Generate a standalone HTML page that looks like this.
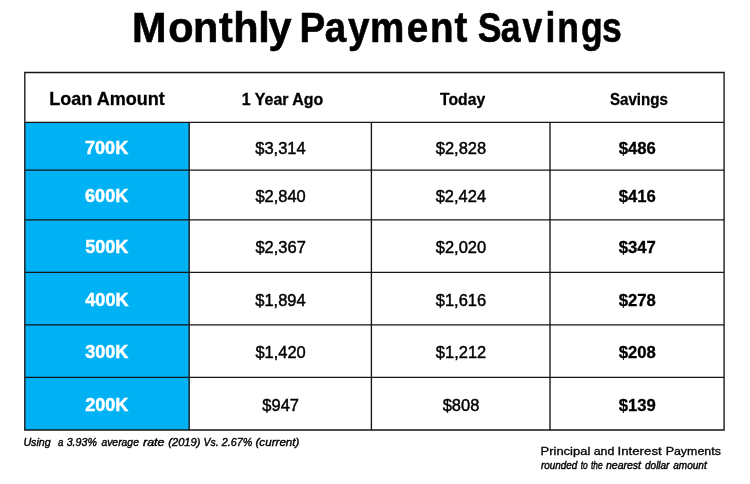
<!DOCTYPE html>
<html lang="en">
<head>
<meta charset="utf-8">
<title>Monthly Payment Savings</title>
<style>
html,body{margin:0;padding:0;background:#fff;}
body{width:750px;height:484px;overflow:hidden;}
svg{display:block;}
svg text{font-family:"Liberation Sans",sans-serif;}
</style>
</head>
<body>
<svg width="750" height="484" viewBox="0 0 750 484" role="img" aria-label="Monthly Payment Savings table">
<rect width="750" height="484" fill="#fff"/>
<rect x="24.8" y="122.4" width="164.40" height="307.60" fill="#00b1f3"/>
<path d="M24.12 72.5H724.77M24.12 122.4H724.77M24.12 170.1H724.77M24.12 219.9H724.77M24.12 272.4H724.77M24.12 324.9H724.77M24.12 377.4H724.77M24.12 430.0H724.77M24.8 72.5V430.0M189.2 122.4V430.0M371.4 122.4V430.0M550.0 122.4V430.0M724.1 72.5V430.0" stroke="#161616" stroke-width="1.35" fill="none"/>
<text transform="translate(0 42) scale(0.9868 1)" x="133.80 170.60 195.67 221.82 236.40 261.70 272.14" font-size="42.0" font-weight="bold" stroke="#000" stroke-width="0.6">Monthly</text>
<text transform="translate(0 42) scale(0.9197 1)" x="325.62 353.04 378.45 402.43 442.20 467.55 494.10" font-size="42.0" font-weight="bold" stroke="#000" stroke-width="0.6">Payment</text>
<text transform="translate(0 42) scale(0.8457 1)" x="564.98 592.26 617.92 644.99 658.97 687.15 711.79" font-size="42.0" font-weight="bold" stroke="#000" stroke-width="0.6">Savings</text>
<text transform="translate(49.20 105.00) scale(0.9757 1)" font-size="18.5" font-weight="bold" stroke="#000" stroke-width="0.3">Loan Amount</text>
<text transform="translate(241.85 105.00) scale(0.9709 1)" font-size="16.4" font-weight="bold" stroke="#000" stroke-width="0.3">1 Year Ago</text>
<text transform="translate(440.10 105.00) scale(0.9592 1)" font-size="16.4" font-weight="bold" stroke="#000" stroke-width="0.3">Today</text>
<text transform="translate(609.95 105.00) scale(0.9210 1)" font-size="16.4" font-weight="bold" stroke="#000" stroke-width="0.3">Savings</text>
<text transform="translate(85.01 154.00) scale(0.9459 1)" font-size="19.1" font-weight="bold" fill="#fff" stroke="#fff" stroke-width="0.5">700K</text>
<text transform="translate(255.27 154.00) scale(0.9814 1)" font-size="16.8" stroke="#000" stroke-width="0.45">$3,314</text>
<text transform="translate(435.80 154.00) scale(0.9814 1)" font-size="16.8" stroke="#000" stroke-width="0.45">$2,828</text>
<text transform="translate(618.70 154.00) scale(0.9886 1)" font-size="16.9" font-weight="bold" stroke="#000" stroke-width="0.3">$486</text>
<text transform="translate(85.07 202.00) scale(0.9459 1)" font-size="19.1" font-weight="bold" fill="#fff" stroke="#fff" stroke-width="0.5">600K</text>
<text transform="translate(255.40 202.00) scale(0.9814 1)" font-size="16.8" stroke="#000" stroke-width="0.45">$2,840</text>
<text transform="translate(435.67 202.00) scale(0.9814 1)" font-size="16.8" stroke="#000" stroke-width="0.45">$2,424</text>
<text transform="translate(618.70 202.00) scale(0.9886 1)" font-size="16.9" font-weight="bold" stroke="#000" stroke-width="0.3">$416</text>
<text transform="translate(85.19 253.00) scale(0.9459 1)" font-size="19.1" font-weight="bold" fill="#fff" stroke="#fff" stroke-width="0.5">500K</text>
<text transform="translate(255.46 253.00) scale(0.9814 1)" font-size="16.8" stroke="#000" stroke-width="0.45">$2,367</text>
<text transform="translate(435.80 253.00) scale(0.9814 1)" font-size="16.8" stroke="#000" stroke-width="0.45">$2,020</text>
<text transform="translate(618.76 253.00) scale(0.9886 1)" font-size="16.9" font-weight="bold" stroke="#000" stroke-width="0.3">$347</text>
<text transform="translate(85.30 306.00) scale(0.9459 1)" font-size="19.1" font-weight="bold" fill="#fff" stroke="#fff" stroke-width="0.5">400K</text>
<text transform="translate(255.27 306.00) scale(0.9814 1)" font-size="16.8" stroke="#000" stroke-width="0.45">$1,894</text>
<text transform="translate(435.80 306.00) scale(0.9814 1)" font-size="16.8" stroke="#000" stroke-width="0.45">$1,616</text>
<text transform="translate(618.64 306.00) scale(0.9886 1)" font-size="16.9" font-weight="bold" stroke="#000" stroke-width="0.3">$278</text>
<text transform="translate(85.25 358.00) scale(0.9459 1)" font-size="19.1" font-weight="bold" fill="#fff" stroke="#fff" stroke-width="0.5">300K</text>
<text transform="translate(255.40 358.00) scale(0.9814 1)" font-size="16.8" stroke="#000" stroke-width="0.45">$1,420</text>
<text transform="translate(435.86 358.00) scale(0.9814 1)" font-size="16.8" stroke="#000" stroke-width="0.45">$1,212</text>
<text transform="translate(618.64 358.00) scale(0.9886 1)" font-size="16.9" font-weight="bold" stroke="#000" stroke-width="0.3">$208</text>
<text transform="translate(85.13 411.00) scale(0.9459 1)" font-size="19.1" font-weight="bold" fill="#fff" stroke="#fff" stroke-width="0.5">200K</text>
<text transform="translate(262.33 411.00) scale(0.9814 1)" font-size="16.8" stroke="#000" stroke-width="0.45">$947</text>
<text transform="translate(442.67 411.00) scale(0.9814 1)" font-size="16.8" stroke="#000" stroke-width="0.45">$808</text>
<text transform="translate(618.70 411.00) scale(0.9886 1)" font-size="16.9" font-weight="bold" stroke="#000" stroke-width="0.3">$139</text>
<text transform="translate(23.39 446.00) scale(0.9738 1)" font-size="11.0" font-style="italic" stroke="#000" stroke-width="0.4">Using</text>
<text transform="translate(58.00 446.00) scale(0.8833 1)" font-size="11.0" font-style="italic" stroke="#000" stroke-width="0.4">a</text>
<text transform="translate(66.70 446.00) scale(0.9684 1)" font-size="11.0" font-style="italic" stroke="#000" stroke-width="0.4">3.93%</text>
<text transform="translate(101.40 446.00) scale(0.9443 1)" font-size="11.0" font-style="italic" stroke="#000" stroke-width="0.4">average</text>
<text transform="translate(143.00 446.00) scale(1.1307 1)" font-size="11.0" font-style="italic" stroke="#000" stroke-width="0.4">rate</text>
<text transform="translate(168.32 446.00) scale(1.0097 1)" font-size="11.0" font-style="italic" stroke="#000" stroke-width="0.4">(2019)</text>
<text transform="translate(203.59 446.00) scale(0.9500 1)" font-size="11.0" font-style="italic" stroke="#000" stroke-width="0.4">Vs.</text>
<text transform="translate(221.84 446.00) scale(0.9767 1)" font-size="11.0" font-style="italic" stroke="#000" stroke-width="0.4">2.67%</text>
<text transform="translate(255.50 446.00) scale(1.0577 1)" font-size="11.0" font-style="italic" stroke="#000" stroke-width="0.4">(current)</text>
<text transform="translate(540.51 455.00) scale(1.1817 1)" font-size="11.0" stroke="#000" stroke-width="0.3">Principal</text>
<text transform="translate(593.68 455.00) scale(1.1314 1)" font-size="11.0" stroke="#000" stroke-width="0.3">and</text>
<text transform="translate(617.44 455.00) scale(1.2070 1)" font-size="11.0" stroke="#000" stroke-width="0.3">Interest</text>
<text transform="translate(665.65 455.00) scale(1.1321 1)" font-size="11.0" stroke="#000" stroke-width="0.3">Payments</text>
<text transform="translate(541.00 469.00) scale(0.9886 1)" font-size="10.0" font-style="italic" stroke="#000" stroke-width="0.4">rounded</text>
<text transform="translate(580.79 469.00) scale(0.8375 1)" font-size="10.0" font-style="italic" stroke="#000" stroke-width="0.4">to</text>
<text transform="translate(590.99 469.00) scale(0.8296 1)" font-size="10.0" font-style="italic" stroke="#000" stroke-width="0.4">the</text>
<text transform="translate(606.00 469.00) scale(1.0509 1)" font-size="10.0" font-style="italic" stroke="#000" stroke-width="0.4">nearest</text>
<text transform="translate(645.08 469.00) scale(0.9970 1)" font-size="10.0" font-style="italic" stroke="#000" stroke-width="0.4">dollar</text>
<text transform="translate(673.30 469.00) scale(1.0037 1)" font-size="10.0" font-style="italic" stroke="#000" stroke-width="0.4">amount</text>
</svg>
</body>
</html>
